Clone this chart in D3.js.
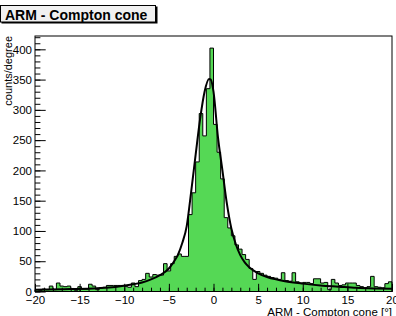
<!DOCTYPE html>
<html>
<head>
<meta charset="utf-8">
<script src="https://cdn.jsdelivr.net/npm/d3@7"></script>
<style>
  body { margin: 0; background: #fff; }
  svg { display: block; font-family: "Liberation Sans", Arial, Helvetica, sans-serif; }
</style>
</head>
<body>
<div id="wrapper"></div>
<script>
// ---------- DATA ----------------------------------------------------------
// histogram range and bin contents, 100 bins of 0.4 degree
const xMin = -20;
const xMax = 20;
const counts = [
  3, 2, 4, 3, 9, 3, 14, 9, 8, 9,
  5, 2, 8, 4, 4, 12, 9, 3, 6, 7,
  10, 10, 10, 10, 10, 8, 7, 14, 8, 18,
  20, 30, 24, 28, 27, 27, 46, 34, 46, 58,
  62, 58, 58, 127, 163, 214, 294, 257, 335, 402,
  276, 230, 186, 122, 105, 92, 77, 70, 61, 53,
  38, 20, 33, 30, 27, 25, 23, 22, 20, 31,
  18, 17, 31, 16, 14, 15, 15, 13, 21, 21,
  14, 15, 3, 20, 14, 10, 11, 14, 14, 14,
  10, 8, 6, 8, 25, 8, 7, 6, 13, 16,
];

// fitted curve, sampled by eye
const fitX = [-20, -16, -13, -11, -9, -8, -7, -6, -5, -4.5, -4, -3.5, -3, -2.5, -2, -1.5, -1, -0.5, -0.3, 0, 0.5, 1, 1.5, 2, 2.5, 3, 3.5, 4, 5, 6, 7, 8, 10, 12, 14, 16, 18, 20];
const fitY = [3, 4, 5.5, 7.5, 12, 15, 20, 27, 38, 48, 60, 80, 108, 165, 226, 285, 330, 351, 350, 330, 255, 200, 145, 104, 78, 60, 48, 40, 30, 24, 20, 17, 13, 10, 8, 6, 5, 4.5];

const xTicks = [-20, -15, -10, -5, 0, 5, 10, 15, 20];
const yTicks = [0, 50, 100, 150, 200, 250, 300, 350, 400];
const yMax = 422;

const titleText = "ARM - Compton cone";
const xLabel = "ARM - Compton cone [\u00b0]";
const yLabel = "counts/degree";

async function drawChart() {

  // ---------- CREATE DIMENSIONS ----------------------------------------
  let dimensions = {
    width: 396,
    height: 316,
    margin: { top: 36, right: 4, bottom: 24.5, left: 35 },
  };
  dimensions.boundedWidth =
    dimensions.width - dimensions.margin.left - dimensions.margin.right;
  dimensions.boundedHeight =
    dimensions.height - dimensions.margin.top - dimensions.margin.bottom;

  // ---------- SVG ----------------------------------------
  const svg = d3
    .select("#wrapper")
    .append("svg")
    .attr("width", dimensions.width)
    .attr("height", dimensions.height);

  svg.append("rect")
    .attr("width", dimensions.width)
    .attr("height", dimensions.height)
    .attr("fill", "#fff");

  const boundingBox = svg
    .append("g")
    .attr("transform", `translate(${dimensions.margin.left}, ${dimensions.margin.top})`);

  // ---------- SCALES ----------------------------------------
  const xScale = d3.scaleLinear()
    .domain([xMin, xMax])
    .range([0, dimensions.boundedWidth]);

  const yScale = d3.scaleLinear()
    .domain([0, yMax])
    .range([dimensions.boundedHeight, 0]);

  // bins from counts
  const binWidth = (xMax - xMin) / counts.length;
  const bins = counts.map((c, i) => ({ x0: xMin + i * binWidth, x1: xMin + (i + 1) * binWidth, y: c }));

  // step outline of the histogram
  let stepPoints = [[xMin, 0]];
  bins.forEach((b) => {
    stepPoints.push([b.x0, b.y]);
    stepPoints.push([b.x1, b.y]);
  });
  stepPoints.push([xMax, 0]);

  const stepLine = d3.line()
    .x((d) => xScale(d[0]))
    .y((d) => yScale(d[1]));

  boundingBox.append("path")
    .attr("d", stepLine(stepPoints) + "Z")
    .attr("fill", "#55d855")
    .attr("stroke", "none");

  boundingBox.append("path")
    .attr("d", stepLine(stepPoints))
    .attr("fill", "none")
    .attr("stroke", "#000")
    .attr("stroke-width", 1);

  // fit curve
  const fitLine = d3.line()
    .x((d) => xScale(d[0]))
    .y((d) => yScale(d[1]))
    .curve(d3.curveMonotoneX);

  boundingBox.append("path")
    .attr("d", fitLine(fitX.map((x, i) => [x, fitY[i]])))
    .attr("fill", "none")
    .attr("stroke", "#000")
    .attr("stroke-width", 2);

  // ---------- AXES (ROOT style: ticks inward) ----------------------------
  const yMinor = d3.range(0, yMax, 10);
  const xMinor = d3.range(xMin, xMax + 0.5, 1);

  boundingBox.append("g")
    .call(d3.axisLeft(yScale).tickValues(yMinor).tickSize(-5.4).tickSizeOuter(0).tickFormat(""))
    .call((g) => g.select(".domain").remove());

  const yAxis = boundingBox.append("g")
    .call(d3.axisLeft(yScale).tickValues(yTicks).tickSize(-10.7).tickSizeOuter(0).tickPadding(3))
    .call((g) => g.select(".domain").remove());
  yAxis.selectAll("text").attr("font-size", 11.5).attr("fill", "#000").attr("font-family", null);

  boundingBox.append("g")
    .attr("transform", `translate(0, ${dimensions.boundedHeight})`)
    .call(d3.axisBottom(xScale).tickValues(xMinor).tickSize(-3.8).tickSizeOuter(0).tickFormat(""))
    .call((g) => g.select(".domain").remove());

  const xAxis = boundingBox.append("g")
    .attr("transform", `translate(0, ${dimensions.boundedHeight})`)
    .call(d3.axisBottom(xScale).tickValues(xTicks).tickSize(-7.7).tickSizeOuter(0).tickPadding(4))
    .call((g) => g.select(".domain").remove());
  xAxis.selectAll("text").attr("font-size", 11.5).attr("fill", "#000").attr("font-family", null);

  // frame
  boundingBox.append("rect")
    .attr("x", 0)
    .attr("y", 0)
    .attr("width", dimensions.boundedWidth)
    .attr("height", dimensions.boundedHeight)
    .attr("fill", "none")
    .attr("stroke", "#000")
    .attr("stroke-width", 1);

  // axis titles
  svg.append("text")
    .attr("x", dimensions.margin.left + dimensions.boundedWidth)
    .attr("y", 315.5)
    .attr("text-anchor", "end")
    .attr("font-size", 11.5)
    .text(xLabel);

  svg.append("text")
    .attr("transform", `translate(11.5, ${dimensions.margin.top}) rotate(-90)`)
    .attr("text-anchor", "end")
    .attr("font-size", 11)
    .text(yLabel);

  // ---------- TITLE BOX ----------------------------------------
  svg.append("rect")
    .attr("x", 1.5).attr("y", 6.5)
    .attr("width", 156).attr("height", 17)
    .attr("fill", "#000");
  svg.append("rect")
    .attr("x", 0.5).attr("y", 5.5)
    .attr("width", 155).attr("height", 16.5)
    .attr("fill", "#f0f0f0")
    .attr("stroke", "#000")
    .attr("stroke-width", 1);
  svg.append("text")
    .attr("x", 5)
    .attr("y", 20)
    .attr("font-size", 14)
    .attr("font-weight", "bold")
    .text(titleText);
}

drawChart();
</script>
</body>
</html>
